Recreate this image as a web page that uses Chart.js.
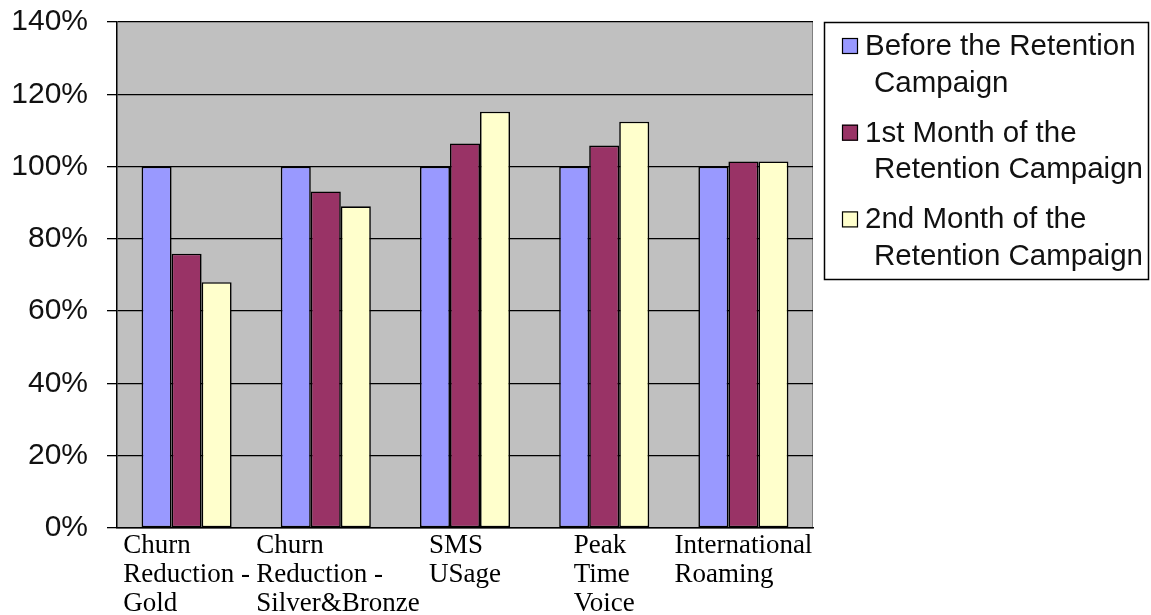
<!DOCTYPE html>
<html>
<head>
<meta charset="utf-8">
<script src="https://cdn.jsdelivr.net/npm/chart.js@4.4.1/dist/chart.umd.min.js"></script>
<style>
  html, body { margin: 0; padding: 0; background: #fff; overflow: hidden; }
  #wrap { width: 1151px; height: 615px; }
</style>
</head>
<body>
<div id="wrap"><canvas id="c" width="1151" height="615"></canvas></div>
<script>
// Category labels (one entry per line of the wrapped label)
const categories = [
  ["Churn", "Reduction -", "Gold"],
  ["Churn", "Reduction -", "Silver&Bronze"],
  ["SMS", "USage"],
  ["Peak", "Time", "Voice"],
  ["International", "Roaming"]
];
const seriesNames = [
  "Before the Retention Campaign",
  "1st Month of the Retention Campaign",
  "2nd Month of the Retention Campaign"
];
// Values in percent
const beforeCampaign = [100, 100, 100, 100, 100];
const firstMonth     = [75.9, 93.1, 106.4, 105.8, 101.4];
const secondMonth    = [68.0, 89.0, 115.2, 112.4, 101.4];
const yTicks = [0, 20, 40, 60, 80, 100, 120, 140];

const seriesColors = ["#9999FF", "#993366", "#FFFFCC"];

// Grey plot area with a thin grey frame on the right
const plotBackground = {
  id: "plotBackground",
  beforeDraw(chart) {
    const { ctx, chartArea: a } = chart;
    ctx.save();
    ctx.fillStyle = "#C0C0C0";
    ctx.fillRect(a.left, a.top, a.right - a.left, a.bottom - a.top);
    ctx.strokeStyle = "#808080";
    ctx.lineWidth = 1;
    ctx.beginPath();
    ctx.moveTo(Math.round(a.right) - 0.5, a.top);
    ctx.lineTo(Math.round(a.right) - 0.5, a.bottom);
    ctx.stroke();
    ctx.restore();
  }
};

// Category labels: wrapped lines, left-aligned within a block centred on the category
const categoryLabels = {
  id: "categoryLabels",
  afterDraw(chart) {
    const { ctx, chartArea: a } = chart;
    const xs = chart.scales.x;
    const labels = chart.data.labels;
    const catW = xs.width / labels.length;
    ctx.save();
    ctx.font = '27px "Liberation Serif", "Times New Roman", serif';
    ctx.fillStyle = "#000";
    ctx.textAlign = "left";
    ctx.textBaseline = "alphabetic";
    labels.forEach((lines, i) => {
      const w = Math.min(Math.max(...lines.map(l => ctx.measureText(l).width)), catW);
      const left = xs.getPixelForValue(i) - w / 2;
      lines.forEach((l, k) => ctx.fillText(l, left, a.bottom + 25 + 29 * k));
    });
    ctx.restore();
  }
};

// Boxed legend to the right of the plot, with wrapped series names
const boxLegend = {
  id: "boxLegend",
  afterDraw(chart) {
    const { ctx, chartArea: a } = chart;
    const x0 = Math.round(a.right) + 11, y0 = Math.round(a.top);
    const w = 324, h = 257;
    ctx.save();
    ctx.fillStyle = "#fff";
    ctx.fillRect(x0, y0, w, h);
    ctx.strokeStyle = "#000";
    ctx.lineWidth = 1.5;
    ctx.strokeRect(x0 + 0.5, y0 + 0.5, w, h);
    ctx.font = '29.5px "Liberation Sans", Arial, sans-serif';
    ctx.textBaseline = "alphabetic";
    ctx.textAlign = "left";
    const maxW = 285;
    chart.data.datasets.forEach((ds, i) => {
      // word wrap
      const words = ds.label.split(" ");
      const lines = [];
      let cur = "";
      words.forEach(wd => {
        const t = cur ? cur + " " + wd : wd;
        if (cur && ctx.measureText(t).width > maxW) { lines.push(cur); cur = wd; }
        else cur = t;
      });
      if (cur) lines.push(cur);
      const base = y0 + 33 + i * 86.7;
      ctx.fillStyle = ds.backgroundColor;
      ctx.fillRect(x0 + 18, base - 17, 16, 16);
      ctx.strokeStyle = "#000";
      ctx.lineWidth = 1.2;
      ctx.strokeRect(x0 + 18.5, base - 16.5, 15, 15);
      ctx.fillStyle = "#111";
      lines.forEach((l, k) => ctx.fillText(l, x0 + (k === 0 ? 41 : 50), base + 36.5 * k));
    });
    ctx.restore();
  }
};

new Chart(document.getElementById("c"), {
  type: "bar",
  data: {
    labels: categories,
    datasets: [beforeCampaign, firstMonth, secondMonth].map((vals, i) => ({
      label: seriesNames[i],
      data: vals,
      backgroundColor: seriesColors[i],
      borderColor: "#000",
      borderWidth: 1.6,
      borderSkipped: false,
      categoryPercentage: 0.647,
      barPercentage: 1
    }))
  },
  options: {
    responsive: false,
    devicePixelRatio: 1,
    animation: false,
    layout: { padding: { left: 0, top: 22, right: 338, bottom: 87 } },
    plugins: {
      legend: { display: false },
      tooltip: { enabled: false }
    },
    scales: {
      x: {
        ticks: { display: false },
        grid: { display: false, drawTicks: false },
        border: { display: true, color: "#000", width: 1.5 },
        afterFit(s) { s.height = 0; s.paddingLeft = 0; s.paddingRight = 0; }
      },
      y: {
        min: yTicks[0],
        max: yTicks[yTicks.length - 1],
        afterBuildTicks(s) { s.ticks = yTicks.map(v => ({ value: v })); },
        ticks: {
          callback: v => v + "%",
          color: "#111",
          padding: 19,
          font: { family: '"Liberation Sans", Arial, sans-serif', size: 30 }
        },
        grid: { color: "#000", lineWidth: 1.3, tickLength: 10, tickColor: "#000", drawTicks: true },
        border: { display: true, color: "#000", width: 1.5 },
        afterFit(s) { s.width = 117; s.paddingTop = 0; s.paddingBottom = 0; }
      }
    }
  },
  plugins: [plotBackground, categoryLabels, boxLegend]
});
</script>
</body>
</html>
